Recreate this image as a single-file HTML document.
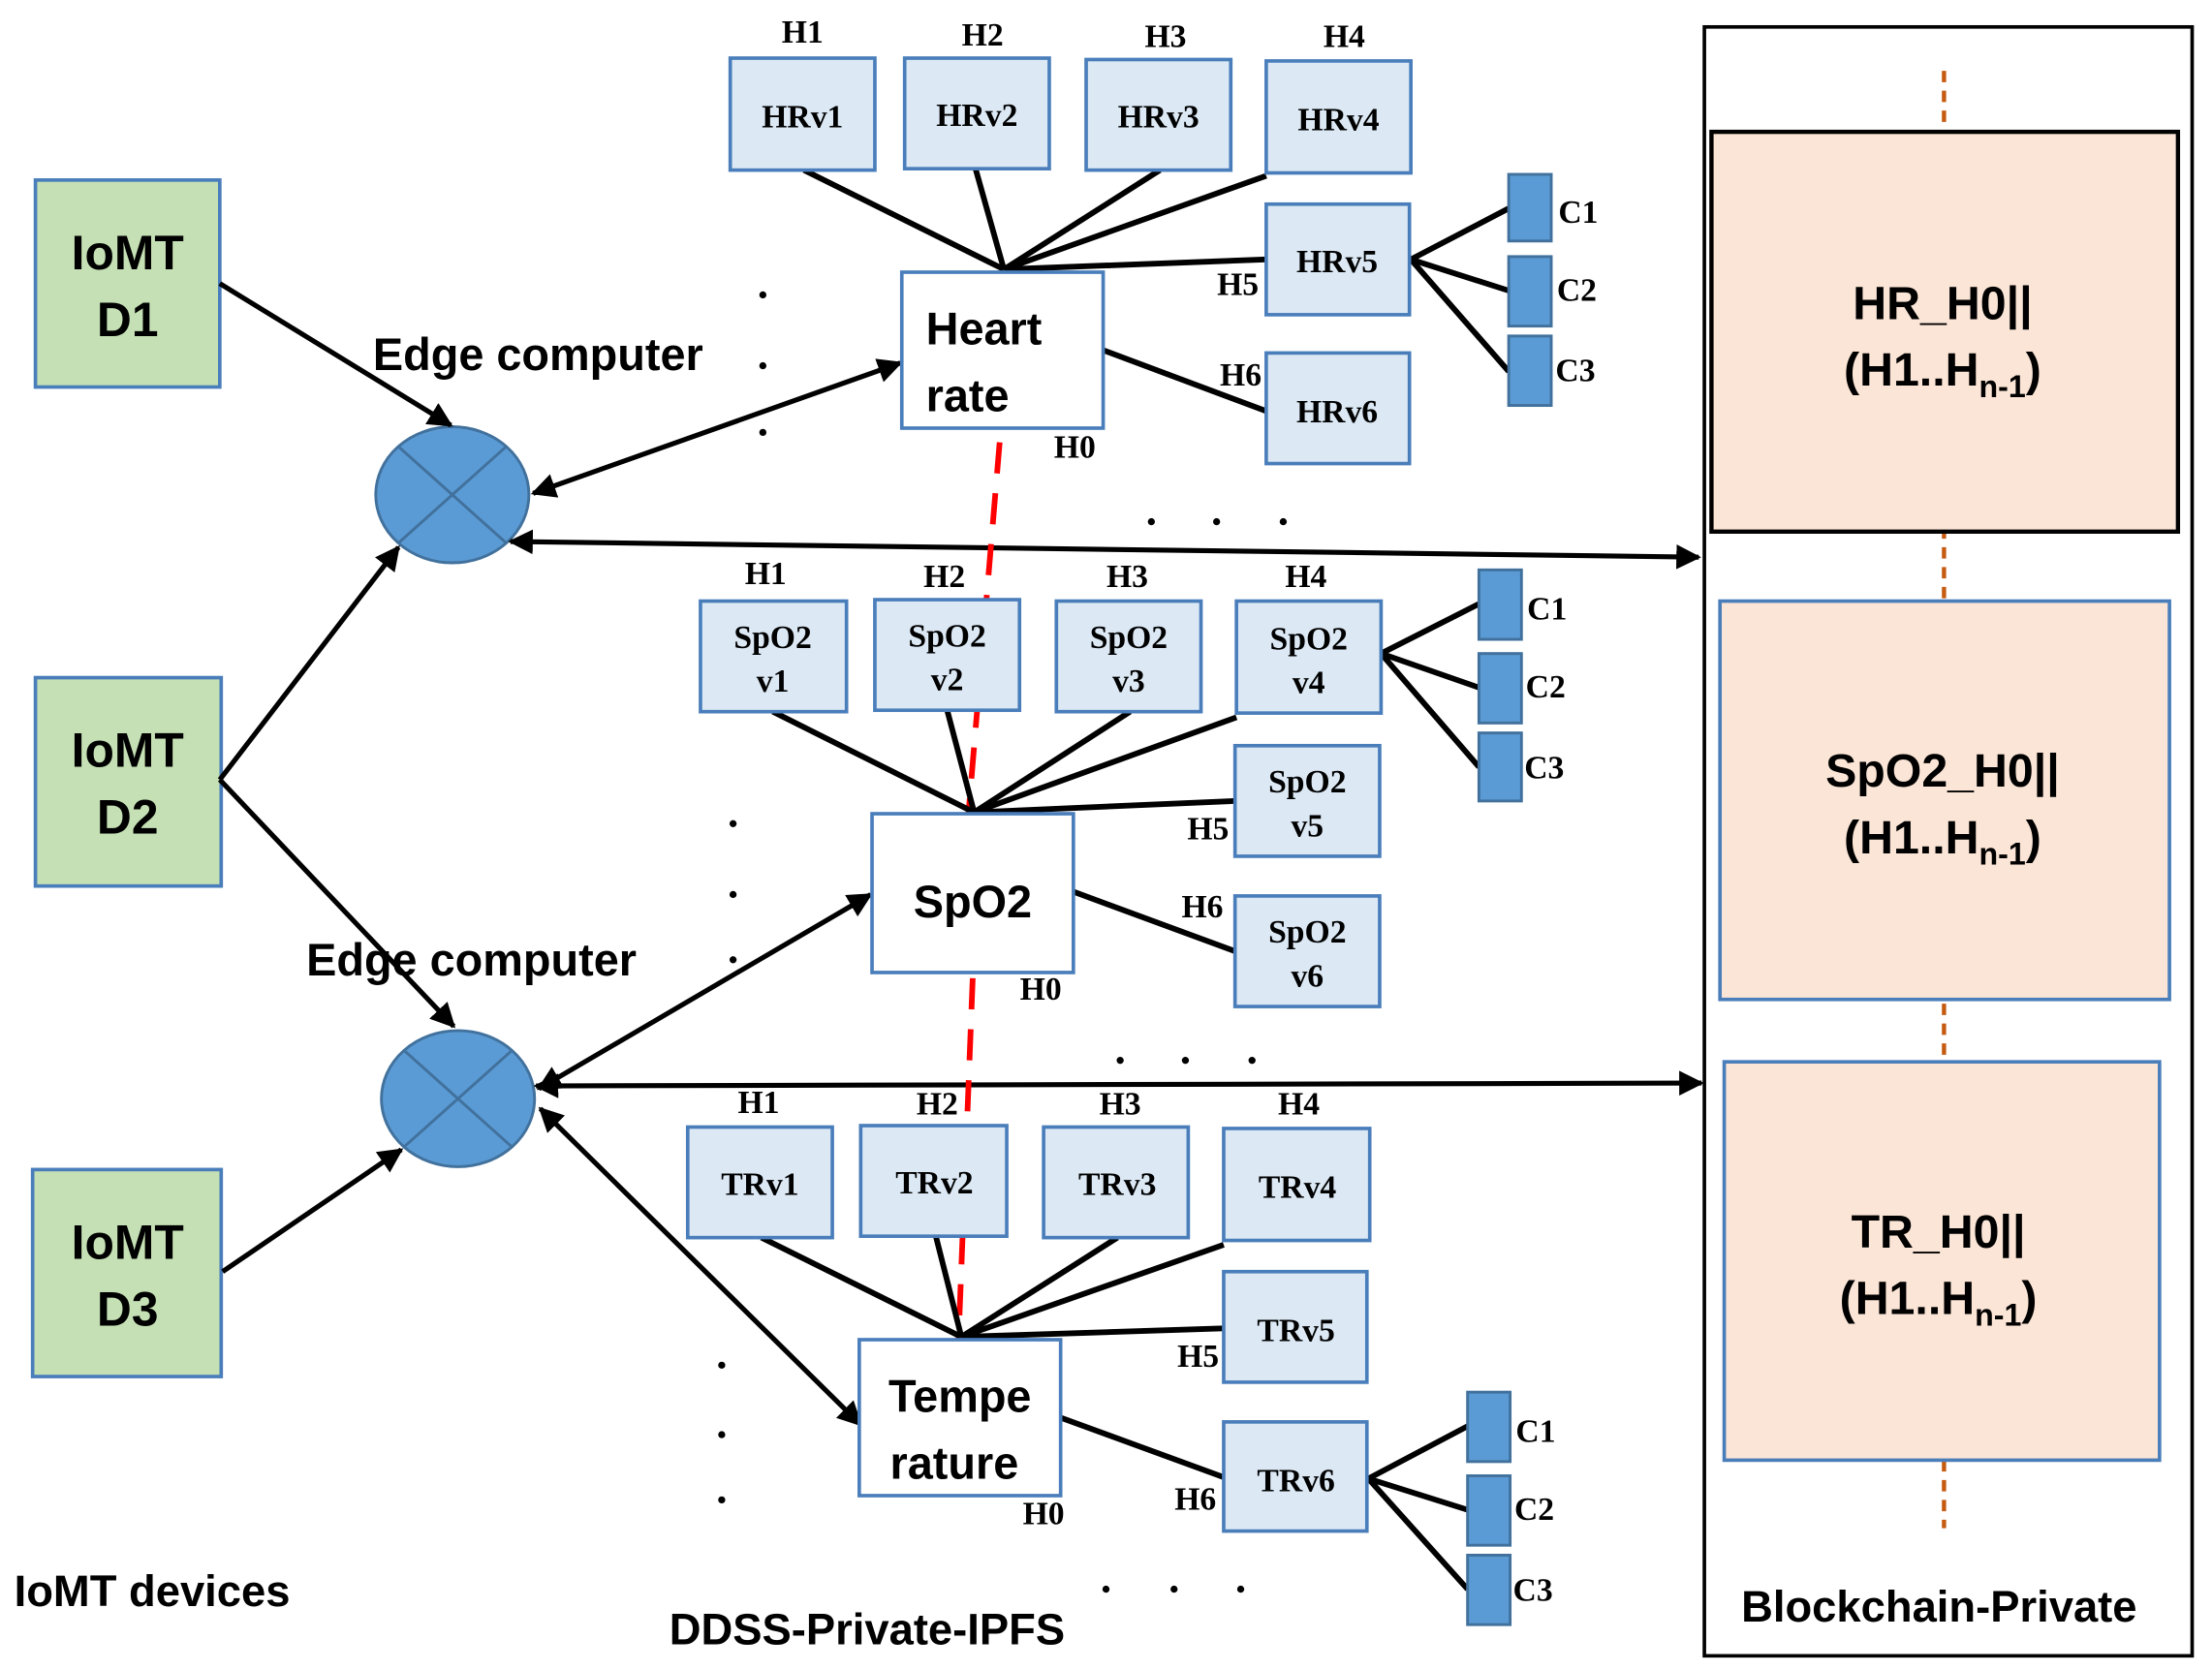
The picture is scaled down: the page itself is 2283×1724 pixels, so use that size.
<!DOCTYPE html>
<html><head><meta charset="utf-8"><style>
html,body{margin:0;padding:0;background:#fff;}
svg{display:block;}
.s{font-family:"Liberation Sans",sans-serif;font-weight:bold;}
.r{font-family:"Liberation Serif",serif;font-weight:bold;font-size:23px;}
.b{fill:#dce9f5;stroke:#4a7ebb;stroke-width:2.5;}
.c{fill:#5b9bd5;stroke:#41719c;stroke-width:2;}
.g{fill:#c5e0b4;stroke:#4a7ebb;stroke-width:2.5;}
.l{stroke:#000;stroke-width:4;fill:none;}
.a{stroke:#000;stroke-width:3.5;fill:none;}
</style></head><body>
<svg width="2283" height="1724" viewBox="0 0 1560 1178" preserveAspectRatio="none" xmlns="http://www.w3.org/2000/svg">
<defs>
<marker id="m" viewBox="0 0 10 10" refX="9" refY="5" markerWidth="5" markerHeight="5" orient="auto-start-reverse"><path d="M0,0 L10,5 L0,10 z" fill="#000"/></marker>
</defs>
<rect width="1560" height="1178" fill="#fff"/>

<!-- Blockchain -->
<rect x="1202" y="19" width="344" height="1149" fill="#fff" stroke="#000" stroke-width="2.5"/>
<line x1="1371" y1="50" x2="1371" y2="1078" stroke="#c55a11" stroke-width="3" stroke-dasharray="8,6"/>
<rect x="1207" y="93" width="329" height="282" fill="#fbe5d6" stroke="#000" stroke-width="3"/>
<rect x="1213" y="424" width="317" height="281" fill="#fbe5d6" stroke="#4a7ebb" stroke-width="2.5"/>
<rect x="1216" y="749" width="307" height="281" fill="#fbe5d6" stroke="#4a7ebb" stroke-width="2.5"/>
<g class="s" font-size="33" text-anchor="middle">
<text x="1370" y="225">HR_H0||</text>
<text x="1370" y="272">(H1..H<tspan font-size="22" dy="8">n-1</tspan><tspan dy="-8">)</tspan></text>
<text x="1370" y="555">SpO2_H0||</text>
<text x="1370" y="602">(H1..H<tspan font-size="22" dy="8">n-1</tspan><tspan dy="-8">)</tspan></text>
<text x="1367" y="880">TR_H0||</text>
<text x="1367" y="927">(H1..H<tspan font-size="22" dy="8">n-1</tspan><tspan dy="-8">)</tspan></text>
</g>
<text class="s" x="1228" y="1144" font-size="31">Blockchain-Private</text>

<!-- IoMT -->
<rect class="g" x="25" y="127" width="130" height="146"/>
<rect class="g" x="25" y="478" width="131" height="147"/>
<rect class="g" x="23" y="825" width="133" height="146"/>
<g class="s" font-size="34" text-anchor="middle">
<text x="90" y="190">IoMT</text><text x="90" y="237">D1</text>
<text x="90" y="541">IoMT</text><text x="90" y="588">D2</text>
<text x="90" y="888">IoMT</text><text x="90" y="935">D3</text>
</g>
<text class="s" x="10" y="1133" font-size="31">IoMT devices</text>
<text class="s" x="472" y="1160" font-size="31">DDSS-Private-IPFS</text>

<!-- edge -->
<ellipse class="c" cx="319" cy="349" rx="54" ry="48"/>
<line x1="281" y1="315" x2="357" y2="383" stroke="#41719c" stroke-width="2"/>
<line x1="357" y1="315" x2="281" y2="383" stroke="#41719c" stroke-width="2"/>
<ellipse class="c" cx="323" cy="775" rx="54" ry="48"/>
<line x1="285" y1="741" x2="361" y2="809" stroke="#41719c" stroke-width="2"/>
<line x1="361" y1="741" x2="285" y2="809" stroke="#41719c" stroke-width="2"/>
<text class="s" x="263" y="261" font-size="32">Edge computer</text>
<text class="s" x="216" y="688" font-size="32">Edge computer</text>

<g class="a">
<line x1="155" y1="200" x2="318" y2="300" marker-end="url(#m)"/>
<line x1="155" y1="550" x2="281" y2="386" marker-end="url(#m)"/>
<line x1="155" y1="550" x2="320" y2="724" marker-end="url(#m)"/>
<line x1="157" y1="897" x2="283" y2="811" marker-end="url(#m)"/>
<line x1="376" y1="348" x2="635" y2="256" marker-start="url(#m)" marker-end="url(#m)"/>
<line x1="360" y1="382" x2="1198" y2="393" marker-start="url(#m)" marker-end="url(#m)"/>
<line x1="380" y1="768" x2="614" y2="631" marker-start="url(#m)" marker-end="url(#m)"/>
<line x1="378" y1="766" x2="1200" y2="764" marker-start="url(#m)" marker-end="url(#m)"/>
<line x1="381" y1="782" x2="607" y2="1005" marker-start="url(#m)" marker-end="url(#m)"/>
</g>

<!-- red dashed -->
<line x1="705" y1="312" x2="683" y2="574" stroke="#ff0000" stroke-width="4" stroke-dasharray="22,14"/>
<line x1="686" y1="690" x2="676" y2="945" stroke="#ff0000" stroke-width="4" stroke-dasharray="22,14"/>

<!-- dots -->
<g fill="#000">
<circle cx="538" cy="208" r="2.5"/><circle cx="538" cy="258" r="2.5"/><circle cx="538" cy="305" r="2.5"/>
<circle cx="517" cy="581" r="2.5"/><circle cx="517" cy="631" r="2.5"/><circle cx="517" cy="677" r="2.5"/>
<circle cx="509" cy="963" r="2.5"/><circle cx="509" cy="1012" r="2.5"/><circle cx="509" cy="1058" r="2.5"/>
<circle cx="812" cy="368" r="2.5"/><circle cx="858" cy="368" r="2.5"/><circle cx="905" cy="368" r="2.5"/>
<circle cx="790" cy="748" r="2.5"/><circle cx="836" cy="748" r="2.5"/><circle cx="883" cy="748" r="2.5"/>
<circle cx="780" cy="1121" r="2.5"/><circle cx="828" cy="1121" r="2.5"/><circle cx="875" cy="1121" r="2.5"/>
</g>

<!-- HR group -->
<g class="l">
<line x1="708" y1="190" x2="567" y2="120"/><line x1="708" y1="190" x2="688" y2="119"/>
<line x1="708" y1="190" x2="818" y2="120"/><line x1="708" y1="190" x2="893" y2="124"/>
<line x1="708" y1="190" x2="893" y2="183"/><line x1="778" y1="247" x2="893" y2="290"/>
<line x1="995" y1="183" x2="1064" y2="147"/><line x1="995" y1="183" x2="1064" y2="205"/><line x1="995" y1="183" x2="1064" y2="262"/>
</g>
<rect x="636" y="192" width="142" height="110" fill="#fff" stroke="#4a7ebb" stroke-width="2.5"/>
<text class="s" x="653" y="243" font-size="32">Heart</text>
<text class="s" x="653" y="290" font-size="32">rate</text>
<rect class="b" x="515" y="41" width="102" height="79"/>
<rect class="b" x="638" y="41" width="102" height="78"/>
<rect class="b" x="766" y="42" width="102" height="78"/>
<rect class="b" x="893" y="43" width="102" height="79"/>
<rect class="b" x="893" y="144" width="101" height="78"/>
<rect class="b" x="893" y="249" width="101" height="78"/>
<rect class="c" x="1064" y="123" width="30" height="47"/>
<rect class="c" x="1064" y="181" width="30" height="49"/>
<rect class="c" x="1064" y="237" width="30" height="49"/>
<g class="r" text-anchor="middle">
<text x="566" y="90">HRv1</text><text x="689" y="89">HRv2</text><text x="817" y="90">HRv3</text><text x="944" y="92">HRv4</text>
<text x="943" y="192">HRv5</text><text x="943" y="298">HRv6</text>
<text x="566" y="30">H1</text><text x="693" y="32">H2</text><text x="822" y="33">H3</text><text x="948" y="33">H4</text>
<text x="873" y="208">H5</text><text x="875" y="272">H6</text><text x="758" y="323">H0</text>
</g>
<g class="r"><text x="1099" y="157">C1</text><text x="1098" y="212">C2</text><text x="1097" y="269">C3</text></g>

<!-- SpO2 group -->
<g class="l">
<line x1="687" y1="573" x2="545" y2="502"/><line x1="687" y1="573" x2="668" y2="501"/>
<line x1="687" y1="573" x2="797" y2="502"/><line x1="687" y1="573" x2="872" y2="506"/>
<line x1="687" y1="573" x2="871" y2="565"/><line x1="757" y1="629" x2="871" y2="671"/>
<line x1="974" y1="461" x2="1043" y2="426"/><line x1="974" y1="461" x2="1043" y2="485"/><line x1="974" y1="461" x2="1043" y2="541"/>
</g>
<rect x="615" y="574" width="142" height="112" fill="#fff" stroke="#4a7ebb" stroke-width="2.5"/>
<text class="s" x="686" y="647" font-size="32" text-anchor="middle">SpO2</text>
<rect class="b" x="494" y="424" width="103" height="78"/>
<rect class="b" x="617" y="423" width="102" height="78"/>
<rect class="b" x="745" y="424" width="102" height="78"/>
<rect class="b" x="872" y="424" width="102" height="79"/>
<rect class="b" x="871" y="526" width="102" height="78"/>
<rect class="b" x="871" y="632" width="102" height="78"/>
<rect class="c" x="1043" y="402" width="30" height="49"/>
<rect class="c" x="1043" y="461" width="30" height="49"/>
<rect class="c" x="1043" y="517" width="30" height="48"/>
<g class="r" text-anchor="middle">
<text x="545" y="457">SpO2</text><text x="545" y="488">v1</text>
<text x="668" y="456">SpO2</text><text x="668" y="487">v2</text>
<text x="796" y="457">SpO2</text><text x="796" y="488">v3</text>
<text x="923" y="458">SpO2</text><text x="923" y="489">v4</text>
<text x="922" y="559">SpO2</text><text x="922" y="590">v5</text>
<text x="922" y="665">SpO2</text><text x="922" y="696">v6</text>
<text x="540" y="412">H1</text><text x="666" y="414">H2</text><text x="795" y="414">H3</text><text x="921" y="414">H4</text>
<text x="852" y="592">H5</text><text x="848" y="647">H6</text><text x="734" y="705">H0</text>
</g>
<g class="r"><text x="1077" y="437">C1</text><text x="1076" y="492">C2</text><text x="1075" y="549">C3</text></g>

<!-- TR group -->
<g class="l">
<line x1="678" y1="943" x2="537" y2="873"/><line x1="678" y1="943" x2="660" y2="872"/>
<line x1="678" y1="943" x2="788" y2="873"/><line x1="678" y1="943" x2="863" y2="878"/>
<line x1="678" y1="943" x2="863" y2="937"/><line x1="748" y1="1000" x2="863" y2="1042"/>
<line x1="965" y1="1043" x2="1035" y2="1006"/><line x1="965" y1="1043" x2="1035" y2="1065"/><line x1="965" y1="1043" x2="1035" y2="1121"/>
</g>
<rect x="606" y="945" width="142" height="110" fill="#fff" stroke="#4a7ebb" stroke-width="2.5"/>
<text class="s" x="677" y="996" font-size="32" text-anchor="middle">Tempe</text>
<text class="s" x="673" y="1043" font-size="32" text-anchor="middle">rature</text>
<rect class="b" x="485" y="795" width="102" height="78"/>
<rect class="b" x="607" y="794" width="103" height="78"/>
<rect class="b" x="736" y="795" width="102" height="78"/>
<rect class="b" x="863" y="796" width="103" height="79"/>
<rect class="b" x="863" y="897" width="101" height="78"/>
<rect class="b" x="863" y="1003" width="101" height="77"/>
<rect class="c" x="1035" y="982" width="30" height="49"/>
<rect class="c" x="1035" y="1041" width="30" height="49"/>
<rect class="c" x="1035" y="1097" width="30" height="49"/>
<g class="r" text-anchor="middle">
<text x="536" y="843">TRv1</text><text x="659" y="842">TRv2</text><text x="788" y="843">TRv3</text><text x="915" y="845">TRv4</text>
<text x="914" y="946">TRv5</text><text x="914" y="1052">TRv6</text>
<text x="535" y="785">H1</text><text x="661" y="786">H2</text><text x="790" y="786">H3</text><text x="916" y="786">H4</text>
<text x="845" y="964">H5</text><text x="843" y="1065">H6</text><text x="736" y="1075">H0</text>
</g>
<g class="r"><text x="1069" y="1017">C1</text><text x="1068" y="1072">C2</text><text x="1067" y="1129">C3</text></g>
</svg>
</body></html>
